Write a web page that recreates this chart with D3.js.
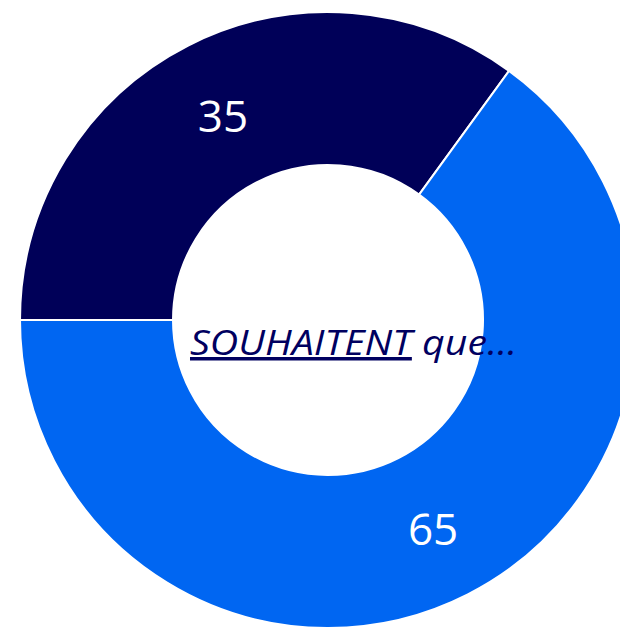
<!DOCTYPE html>
<html>
<head>
<meta charset="utf-8">
<script src="https://cdn.jsdelivr.net/npm/d3@7"></script>
<style>
  body { margin: 0; background: #fff; overflow: hidden; }
</style>
</head>
<body>
<div id="container"></div>
<script>
/* DATA */
const categories = ["autre", "souhaitent"];
const values = [35, 65];
const labels = ["35", "65"];
const centerTitle = "SOUHAITENT";
const centerRest = " que…";

/* CONSTANTS */
const width = 620, height = 627;
const cx = 328, cy = 320;
const outerR = 308, innerR = 155;

const colorScale = d3.scaleOrdinal()
  .domain(categories)
  .range(["#000058", "#0066f2"]);

const svg = d3.select("#container")
  .append("svg")
  .attr("width", width)
  .attr("height", height);

const g = svg.append("g")
  .attr("transform", `translate(${cx},${cy})`);

// pie starts at 9 o'clock going clockwise
const pie = d3.pie()
  .sort(null)
  .startAngle(-Math.PI / 2)
  .endAngle(1.5 * Math.PI);

const arc = d3.arc()
  .innerRadius(innerR)
  .outerRadius(outerR);

const arcs = pie(values);

g.selectAll("path")
  .data(arcs)
  .join("path")
  .attr("d", arc)
  .attr("fill", (d, i) => colorScale(categories[i]))
  .attr("stroke", "white")
  .attr("stroke-width", 2);

g.selectAll("text.val")
  .data(arcs)
  .join("text")
  .attr("class", "val")
  .attr("transform", d => `translate(${arc.centroid(d)})`)
  .attr("text-anchor", "middle")
  .attr("dy", "0.42em")
  .attr("fill", "white")
  .style("font-family", "'Open Sans', sans-serif")
  .style("font-size", "44px")
  .text((d, i) => labels[i]);

// center text
const t = svg.append("text")
  .attr("x", 190)
  .attr("y", 355)
  .attr("fill", "#000060")
  .style("font-family", "'Open Sans', sans-serif")
  .style("font-style", "italic")
  .style("font-size", "35px")
  .attr("textLength", 327)
  .attr("lengthAdjust", "spacingAndGlyphs");

t.append("tspan")
  .style("text-decoration", "underline")
  .text(centerTitle);
t.append("tspan")
  .text(centerRest);
</script>
</body>
</html>
